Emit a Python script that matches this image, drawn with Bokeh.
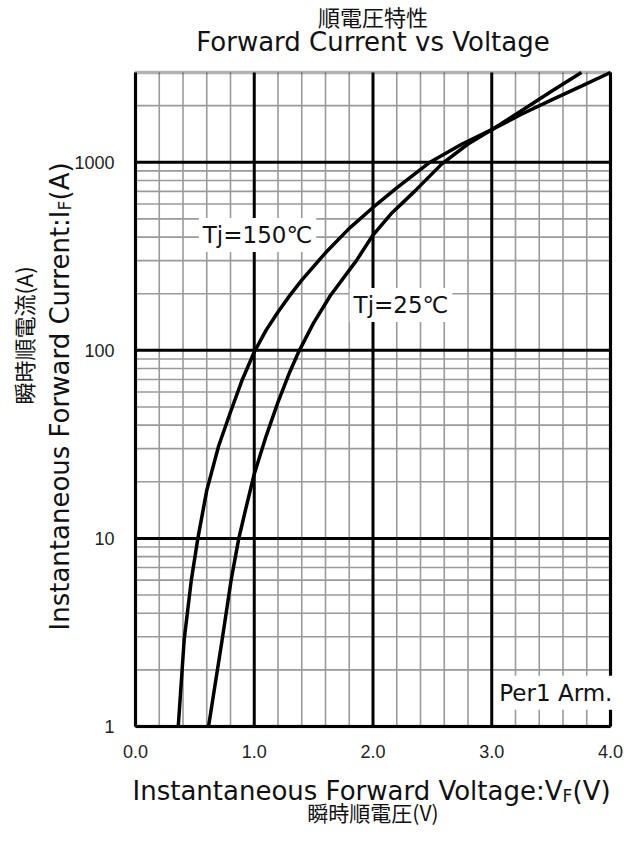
import math
from bokeh.plotting import figure
from bokeh.models import Label, Range1d, BoxAnnotation
from bokeh.core.properties import value
from bokeh.embed import file_html
from bokeh.resources import INLINE

# ---- data ----
v_150 = [0.36, 0.41, 0.47, 0.525, 0.60, 0.70, 0.80, 0.90, 1.00, 1.10, 1.20, 1.30, 1.40,
         1.60, 1.80, 2.00, 2.20, 2.48, 2.75, 3.00, 3.25, 3.50, 3.75, 4.00]
i_150 = [1.0, 2.9, 6.0, 10, 18, 31, 47, 70, 98, 128, 160, 196, 236,
         330, 445, 575, 730, 1000, 1250, 1490, 1800, 2140, 2530, 3000]

v_25 = [0.615, 0.73, 0.805, 0.87, 0.93, 1.00, 1.10, 1.20, 1.30, 1.38, 1.50, 1.64, 1.86,
        2.00, 2.15, 2.35, 2.58, 2.80, 3.00, 3.25, 3.50, 3.755]
i_25 = [1.0, 2.9, 6.0, 10, 14.5, 22, 35, 53, 77, 100, 140, 195, 300,
        410, 530, 700, 980, 1250, 1490, 1880, 2380, 3000]

x_major = [0, 1, 2, 3, 4]
x_minor = [0.2, 0.4, 0.6, 0.8, 1.2, 1.4, 1.6, 1.8, 2.2, 2.4, 2.6, 2.8,
           3.2, 3.4, 3.6, 3.8]
x_tick_labels = ["0.0", "1.0", "2.0", "3.0", "4.0"]
y_major = [1, 10, 100, 1000]
y_minor = [2, 3, 4, 5, 6, 7, 8, 9, 20, 30, 40, 50, 60, 70, 80, 90,
           200, 300, 400, 500, 600, 700, 800, 900, 2000]
y_top = 3000
y_tick_labels = ["1", "10", "100", "1000"]

title_jp = "順電圧特性"
title_en = "Forward Current vs Voltage"
xlabel_en = ("Instantaneous Forward Voltage:V", "F", "(V)")
xlabel_jp = "瞬時順電圧(V)"
ylabel_en = ("Instantaneous Forward Current:I", "F", "(A)")
ylabel_jp = "瞬時順電流(A)"
curve_labels = [("Tj=150℃", 0.533, 410), ("Tj=25℃", 1.803, 174), ("Per1 Arm.", 3.03, 1.51)]

LATIN = "DejaVu Sans"
CJK = "Noto Sans CJK JP"
TICKF = "Liberation Sans"
INK = "#111111"

# ---- layout (pixels in the figure) ----
W, H = 625, 828
L, R, T, B = 135, 610, 72, 726          # chart box inside the canvas
x0, x1 = x_major[0], x_major[-1]
y0, y1 = y_major[0], y_top
ppx = (R - L) / (x1 - x0)
dec = (B - T) / (math.log10(y1) - math.log10(y0))
xr = Range1d(x0 - L / ppx, x1 + (W - R) / ppx)
yr = Range1d(10 ** (math.log10(y0) - (H - B) / dec), 10 ** (math.log10(y1) + T / dec))

p = figure(width=W, height=H, x_range=xr, y_range=yr, y_axis_type="log",
           x_axis_location=None, y_axis_location=None, title=None,
           output_backend="svg", toolbar_location=None, min_border=0,
           background_fill_color="white", border_fill_color="white")
p.outline_line_color = None
p.xgrid.visible = False
p.ygrid.visible = False

# grid: minor gray first, then major black
GRAY, GW = "#9a9a9a", 1.6
p.segment(x0=x_minor, y0=[y0] * len(x_minor), x1=x_minor, y1=[y1] * len(x_minor),
          line_color=GRAY, line_width=GW)
p.segment(x0=[x0] * len(y_minor), y0=y_minor, x1=[x1] * len(y_minor), y1=y_minor,
          line_color=GRAY, line_width=GW)
p.segment(x0=x_major, y0=[y0] * len(x_major), x1=x_major, y1=[y1] * len(x_major),
          line_color="black", line_width=3)
p.segment(x0=[x0] * len(y_major), y0=y_major, x1=[x1] * len(y_major), y1=y_major,
          line_color="black", line_width=3)

# chart frame
p.add_layout(BoxAnnotation(left=x0, right=x1, bottom=y0, top=y1, fill_alpha=0,
                           line_color="black", line_width=3.5, level="glyph"))

# curves
p.line(v_150, i_150, line_color="black", line_width=3.5, line_join="round")
p.line(v_25, i_25, line_color="black", line_width=3.5, line_join="round")

# tick labels
p.text(x=x_major, y=[y0] * len(x_major), text=x_tick_labels, text_align="center",
       text_baseline="middle", y_offset=25, text_font=value(TICKF),
       text_font_size="18px", text_color="#222222")
p.text(x=[x0] * len(y_major), y=y_major, text=y_tick_labels, text_align="right",
       text_baseline="middle", x_offset=-21, text_font=value(TICKF),
       text_font_size="18px", text_color="#222222")

# in-chart labels with white boxes
for txt, vx, iy in curve_labels:
    p.add_layout(Label(x=vx, y=iy, text=txt, text_font=LATIN, text_font_size="23px",
                       text_align="left", text_baseline="middle", text_color=INK,
                       background_fill_color="white", padding=4))


def lab(text, X, Y, font, size, align="center", baseline="middle", angle=0.0):
    p.add_layout(Label(x=X, y=H - Y, x_units="screen", y_units="screen", text=text,
                       text_font=font, text_font_size=size, text_align=align,
                       text_baseline=baseline, angle=angle, text_color=INK))


# titles
cx = (L + R) / 2
lab(title_jp, cx, 15, CJK, "22px")
lab(title_en, cx, 41, LATIN, "26px")

# x axis title
X2 = 562
lab(xlabel_en[0], X2, 790, LATIN, "26px", align="right", baseline="alphabetic")
lab(xlabel_en[1], X2, 795, LATIN, "17px", align="left", baseline="alphabetic")
lab(xlabel_en[2], X2 + 10, 790, LATIN, "26px", align="left", baseline="alphabetic")
lab(xlabel_jp, cx, 811, CJK, "21px")

# y axis title (rotated)
Yp = 210
lab(ylabel_en[0], 59, Yp, LATIN, "26px", align="right", baseline="alphabetic", angle=math.pi / 2)
lab(ylabel_en[1], 64, Yp, LATIN, "17px", align="left", baseline="alphabetic", angle=math.pi / 2)
lab(ylabel_en[2], 59, Yp - 10, LATIN, "26px", align="left", baseline="alphabetic", angle=math.pi / 2)
lab(ylabel_jp, 22, 335, CJK, "22px", angle=math.pi / 2)

open("out.html", "w").write(file_html(p, INLINE))
